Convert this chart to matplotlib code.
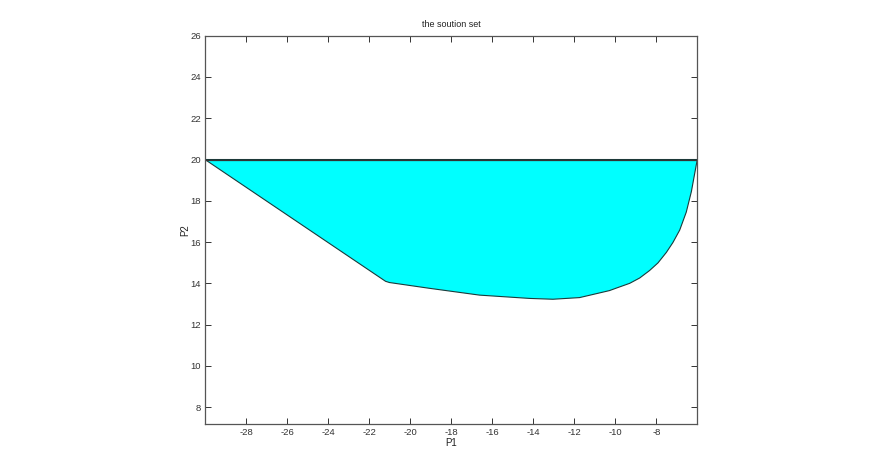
import matplotlib
matplotlib.use("Agg")
import matplotlib.pyplot as plt
import numpy as np

# boundary of the solution set (P1, P2)
p1 = [-30.0, -21.2, -21.01, -19.06, -16.62, -14.18, -13.04, -11.74, -10.28,
      -9.95, -9.30, -8.81, -8.33, -7.92, -7.51, -7.19, -6.86, -6.54, -6.29,
      -6.05, -6.0]
p2 = [20.0, 14.1, 14.04, 13.76, 13.43, 13.27, 13.23, 13.31, 13.65,
      13.77, 14.0, 14.26, 14.62, 14.99, 15.50, 15.98, 16.58, 17.45, 18.45,
      19.75, 20.0]
xticks = list(range(-28, -7, 2))
yticks = list(range(8, 27, 2))

plt.rcParams['font.family'] = ['Liberation Sans', 'DejaVu Sans']
plt.rcParams['axes.unicode_minus'] = False
fig = plt.figure(figsize=(8.72, 4.76), dpi=100)
ax = fig.add_axes([0.2351, 0.1099, 0.5646, 0.8151])

ax.fill(p1, p2, facecolor='#00FFFF', edgecolor='#1a3a3a', linewidth=0.8)
ax.plot([p1[0], p1[-1]], [p2[0], p2[-1]], color='#333333', linewidth=0.9)

ax.set_xlim(-30, -6)
ax.set_ylim(7.2, 26)
ax.set_xticks(xticks)
ax.set_yticks(yticks)
ax.tick_params(direction='in', length=4, width=0.7, top=True, right=True,
               labelsize=6.8, colors='#333333', pad=3)
for s in ax.spines.values():
    s.set_color('#555555')
    s.set_linewidth(0.9)
ax.set_title('the soution set', fontsize=6.5, color='#222222', pad=6)
ax.set_xlabel('P1', fontsize=7, color='#222222', labelpad=0.5)
ax.set_ylabel('P2', fontsize=7, color='#222222', labelpad=0)

fig.savefig('out.png', dpi=100)
